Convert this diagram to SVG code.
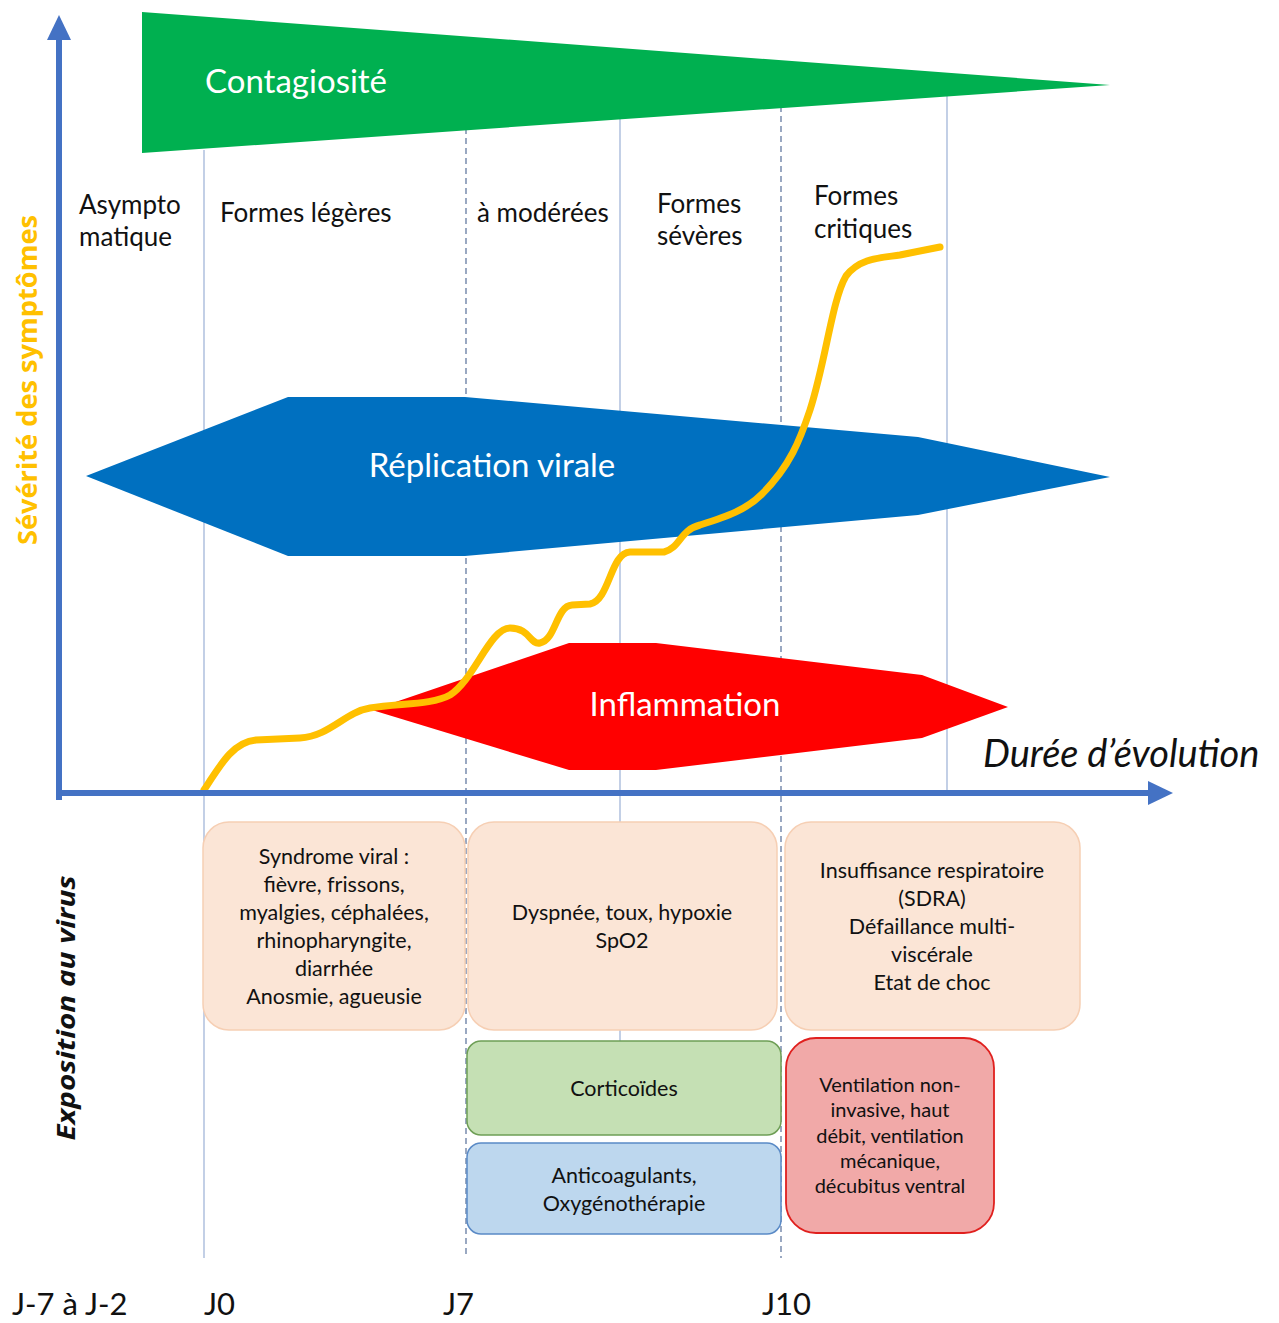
<svg xmlns="http://www.w3.org/2000/svg" width="1279" height="1323" viewBox="0 0 1279 1323">
<defs>
<style>
text{font-family:Lato,"Open Sans","DejaVu Sans",sans-serif;}
.lbl{font-size:26px;fill:#111;}
.big{font-size:33px;fill:#fff;}
.box{font-size:21.5px;fill:#111;text-anchor:middle;}
.sm{font-size:20px;fill:#111;text-anchor:middle;}
.day{font-size:31px;fill:#111;}
.bold{font-family:"Open Sans","DejaVu Sans",sans-serif;font-weight:bold;}
.vsolid{stroke:#9bb0d6;stroke-width:1.2;fill:none;}
.vdash{stroke:#6f84a8;stroke-width:1.4;stroke-dasharray:6 4;fill:none;}
.axis{stroke:#4472C4;stroke-width:6;fill:none;}
.peach{fill:#FBE5D6;stroke:#F6CFB4;stroke-width:1.5;}
</style>
<marker id="ah" markerUnits="userSpaceOnUse" markerWidth="26" markerHeight="26" refX="2" refY="12" orient="auto">
<path d="M0,0 L25,12 L0,24 z" fill="#4472C4"/>
</marker>
</defs>
<rect width="1279" height="1323" fill="#fff"/>

<g id="gridlines">
<line class="vsolid" x1="204" y1="150" x2="204" y2="1258"/>
<line class="vdash" x1="466" y1="128" x2="466" y2="1258"/>
<line class="vsolid" x1="620" y1="118" x2="620" y2="1042"/>
<line class="vdash" x1="781" y1="106" x2="781" y2="1258"/>
<line class="vsolid" x1="947" y1="95" x2="947" y2="793"/>
</g>

<g id="contagiosite">
<polygon points="142,12 1110,85 142,153" fill="#00B050"/>
<text class="big" x="205" y="93" font-size="34">Contagiosité</text>
</g>

<g id="replication">
<polygon points="86,476 288,397 465,397 918,437 1110,477 918,515 465,556 288,556" fill="#0070C0"/>
<text class="big" x="492" y="477" text-anchor="middle" font-size="34">Réplication virale</text>
</g>

<g id="inflammation">
<polygon points="372,710 569,643 656,643 922,675 1008,707 922,738 656,770 569,770" fill="#FF0000"/>
<text class="big" x="685" y="716" text-anchor="middle" font-size="32.5">Inflammation</text>
</g>

<g id="phase-labels">
<text class="lbl" x="79" y="214">Asympto</text>
<text class="lbl" x="79" y="246">matique</text>
<text class="lbl" x="220" y="222">Formes légères</text>
<text class="lbl" x="477" y="222">à modérées</text>
<text class="lbl" x="657" y="213">Formes</text>
<text class="lbl" x="657" y="245">sévères</text>
<text class="lbl" x="814" y="205">Formes</text>
<text class="lbl" x="814" y="238">critiques</text>
</g>

<g id="severity-curve">
<path d="M204,790 C222,762 234,742 256,740 L300,738 C330,736 345,712 370,708 C400,703 432,705 450,695 C474,680 490,628 510,628 C530,628 530,645 540,643 C556,640 556,606 572,605 L590,604 C610,600 610,553 630,552 L664,552 C680,548 680,530 700,525 C728,516 746,510 762,494 C790,466 800,440 810,410 C826,360 832,300 846,276 C860,258 880,258 900,255 L940,247" fill="none" stroke="#FFC000" stroke-width="7" stroke-linecap="round" stroke-linejoin="round"/>
</g>

<g id="axes">
<line class="axis" x1="59" y1="800" x2="59" y2="38" marker-end="url(#ah)"/>
<line class="axis" x1="56" y1="793" x2="1150" y2="793" marker-end="url(#ah)"/>
<text class="bold" x="37" y="380" transform="rotate(-90 37 380)" text-anchor="middle" font-size="26" textLength="330" lengthAdjust="spacingAndGlyphs" fill="#FFC000">Sévérité des symptômes</text>
<text class="bold" x="75" y="1008" transform="rotate(-90 75 1008)" text-anchor="middle" font-size="25" font-style="italic" textLength="265" lengthAdjust="spacingAndGlyphs" fill="#111">Exposition au virus</text>
<text x="983" y="767" font-size="38" font-style="italic" fill="#111">Durée d’évolution</text>
</g>

<g id="box-syndrome">
<rect class="peach" x="203" y="822" width="262" height="208" rx="26"/>
<text class="box" x="334" y="864">Syndrome viral :</text>
<text class="box" x="334" y="892">fièvre, frissons,</text>
<text class="box" x="334" y="920">myalgies, céphalées,</text>
<text class="box" x="334" y="948">rhinopharyngite,</text>
<text class="box" x="334" y="976">diarrhée</text>
<text class="box" x="334" y="1004">Anosmie, agueusie</text>
</g>

<g id="box-dyspnee">
<rect class="peach" x="468" y="822" width="309" height="208" rx="26"/>
<text class="box" x="622" y="920">Dyspnée, toux, hypoxie</text>
<text class="box" x="622" y="948">SpO2</text>
</g>

<g id="box-insuffisance">
<rect class="peach" x="785" y="822" width="295" height="208" rx="26"/>
<text class="box" x="932" y="878" font-size="22">Insuffisance respiratoire</text>
<text class="box" x="932" y="906" font-size="22">(SDRA)</text>
<text class="box" x="932" y="934" font-size="22">Défaillance multi-</text>
<text class="box" x="932" y="962" font-size="22">viscérale</text>
<text class="box" x="932" y="990" font-size="22">Etat de choc</text>
</g>

<g id="box-corticoides">
<rect x="467" y="1041" width="314" height="94" rx="14" fill="#C5E0B4" stroke="#6E9E55" stroke-width="1.5"/>
<text class="box" x="624" y="1096">Corticoïdes</text>
</g>

<g id="box-anticoagulants">
<rect x="467" y="1143" width="314" height="91" rx="14" fill="#BDD7EE" stroke="#5A8AC6" stroke-width="1.5"/>
<text class="box" x="624" y="1183">Anticoagulants,</text>
<text class="box" x="624" y="1211">Oxygénothérapie</text>
</g>

<g id="box-ventilation">
<rect x="786" y="1038" width="208" height="195" rx="30" fill="#F1A9A8" stroke="#E0201E" stroke-width="1.8"/>
<text class="sm" x="890" y="1092">Ventilation non-</text>
<text class="sm" x="890" y="1117">invasive, haut</text>
<text class="sm" x="890" y="1143">débit, ventilation</text>
<text class="sm" x="890" y="1168">mécanique,</text>
<text class="sm" x="890" y="1193">décubitus ventral</text>
</g>

<g id="day-labels">
<text class="day" x="12" y="1315">J-7 à J-2</text>
<text class="day" x="204" y="1315">J0</text>
<text class="day" x="443" y="1315">J7</text>
<text class="day" x="762" y="1315">J10</text>
</g>
</svg>
